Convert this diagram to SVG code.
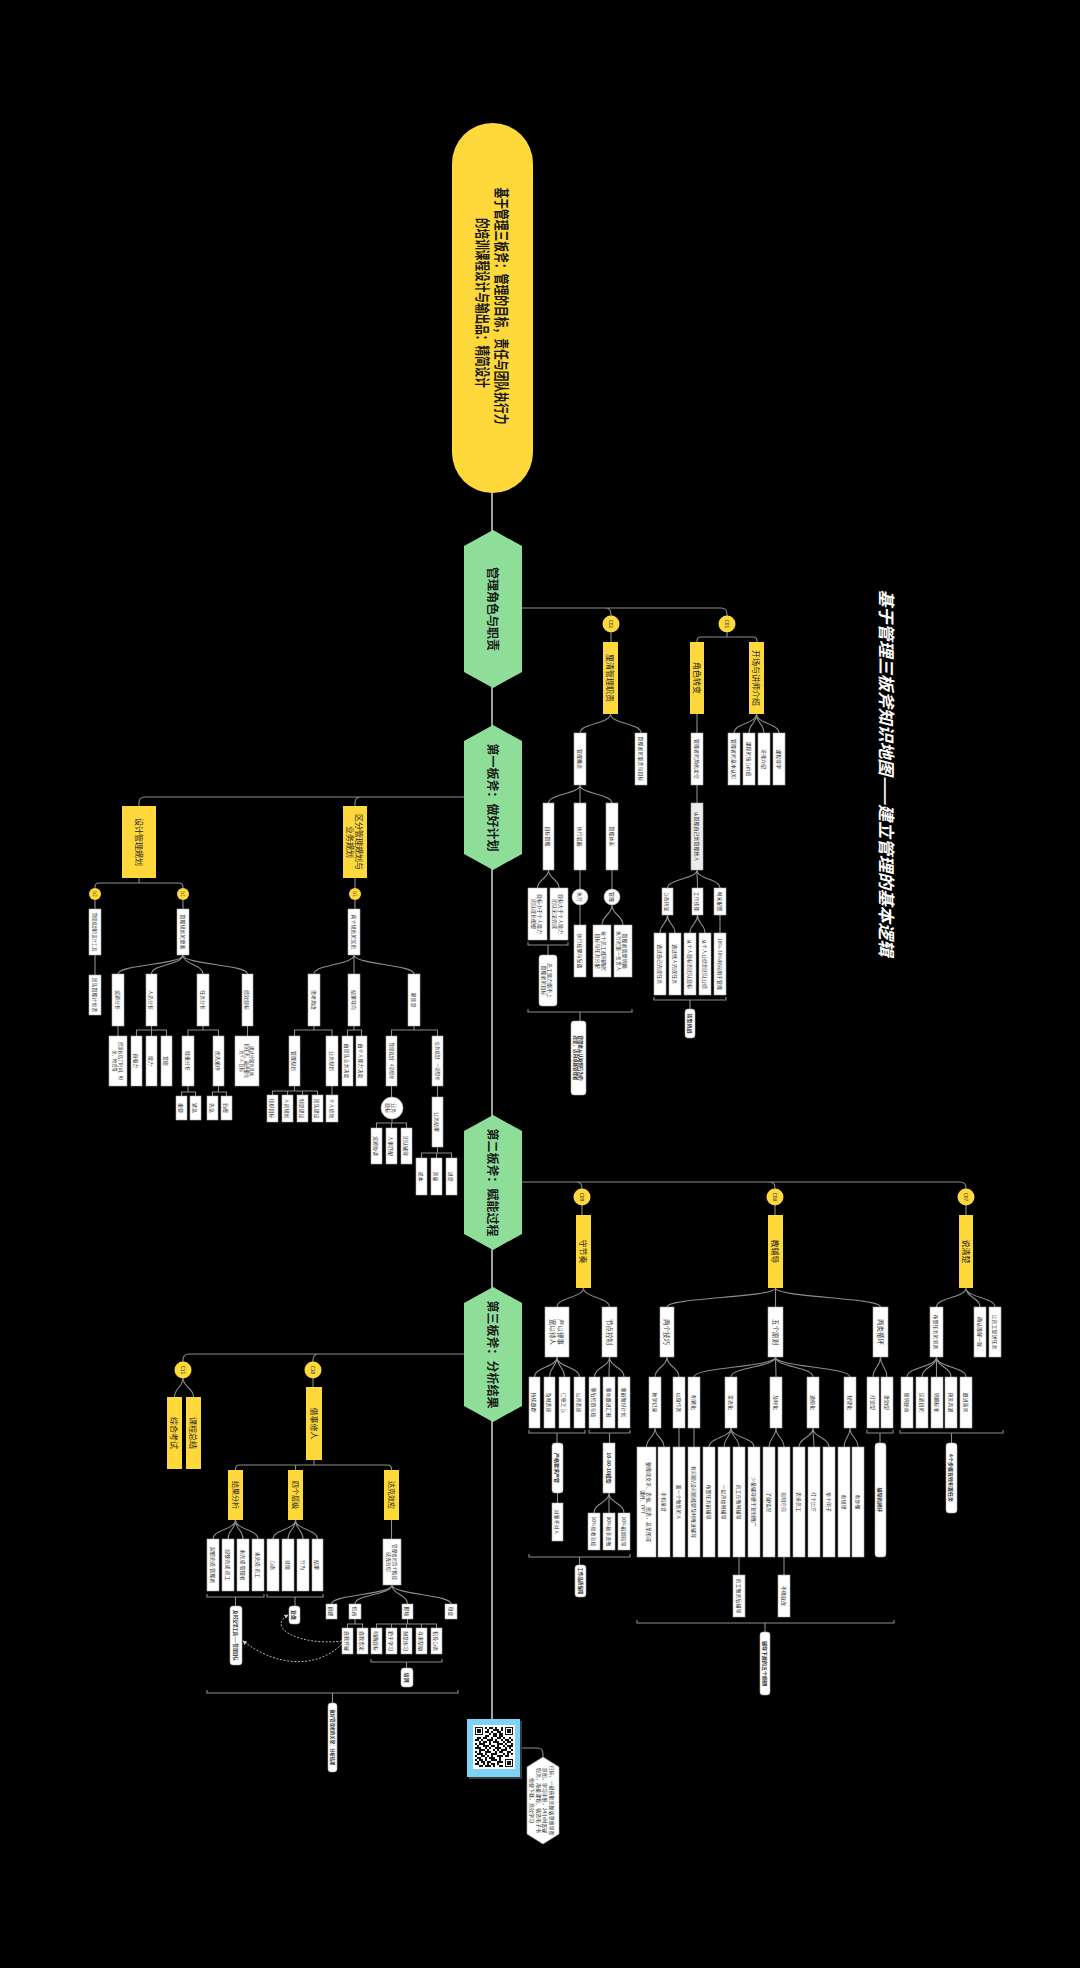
<svg xmlns="http://www.w3.org/2000/svg" width="1080" height="1968" viewBox="0 0 1080 1968">
<defs>
<style>
.t{font-family:"Noto Sans CJK SC","Noto Sans",sans-serif;text-anchor:middle;dominant-baseline:central;fill:#333}
.s{font-size:5px}.xs{font-size:4.3px}.m{font-size:6.5px}
.yl{font-size:8px;fill:#222}
.hx{font-size:12px;font-weight:bold;fill:#1b1b1b}
.w{fill:#fff;stroke:#b0b0b0;stroke-width:.6}
.gr{fill:#ececec;stroke:#b0b0b0;stroke-width:.6}
.y{fill:#FFD83B}
.g{fill:#8EDE99}
.ln{fill:none;stroke:#8d8d8d;stroke-width:1.1}
.sp{fill:none;stroke:#a0a0a0;stroke-width:2}
.da{fill:none;stroke:#c8c8c8;stroke-width:.9;stroke-dasharray:2 1.6}
</style>
<marker id="ah" viewBox="0 0 6 6" refX="5" refY="3" markerWidth="5" markerHeight="5" orient="auto"><path d="M0,0 L6,3 L0,6 z" fill="#c8c8c8"/></marker>
</defs>
<rect width="1080" height="1968" fill="#000"/>

<g id="connectors">
<path class="sp" d="M492 493 V1719"/>
<!-- H1 branch -->
<path class="ln" d="M522 608 H721 Q727 608 727 614 V616 M605 608 Q611 608 611 614 V616"/>
<path class="ln" d="M611 632.5 V642 M727 632.5 V637 M697 642 V641 Q697 637 701 637 H753 Q757 637 757 641 V642"/>
<path class="ln" d="M610.5 714 C610.5 723.5 580 723.5 580 733 M610.5 714 C610.5 723.5 641 723.5 641 733 M697 714 V733"/>
<path class="ln" d="M756.5 714 C756.5 723.5 734 723.5 734 733 M756.5 714 C756.5 723.5 749 723.5 749 733 M756.5 714 C756.5 723.5 764 723.5 764 733 M756.5 714 C756.5 723.5 779 723.5 779 733"/>
<path class="ln" d="M580 785 C580 794 548.5 794 548.5 803 M580 785 V803 M580 785 C580 794 612 794 612 803 M697 785 V803"/>
<path class="ln" d="M548.5 870 C548.5 879 537.5 879 537.5 888 M548.5 870 C548.5 879 559 879 559 888"/>
<path class="ln" d="M528 942 V945 H568 V942 M548 945 V955"/>
<path class="ln" d="M580 870 V889 M580 905 V925 M612 870 V889 M612 905 C612 915 602 915 602 925 M612 905 C612 915 623 915 623 925"/>
<path class="ln" d="M528 1009 V1012 H632 V1009 M580 1012 V1021"/>
<path class="ln" d="M697 870 C697 879 667.5 879 667.5 888 M697 870 C697 879 697.5 879 697.5 888 M697 870 C697 879 720 879 720 888"/>
<path class="ln" d="M667.5 915 C667.5 924 660 924 660 933 M667.5 915 C667.5 924 675 924 675 933 M697.5 915 C697.5 924 690 924 690 933 M697.5 915 C697.5 924 705 924 705 933 M720 915 V933"/>
<path class="ln" d="M654 997 V1000 H726 V997 M690 1000 V1009"/>
<!-- H2 branch -->
<path class="ln" d="M464 797 H145 Q139 797 139 803 V806 M361 797 Q355 797 355 803 V806"/>
<path class="ln" d="M139 878 V883 M95 888 V887 Q95 883 99 883 H179 Q183 883 183 887 V888"/>
<path class="ln" d="M95 900 V909 M95 955 V975 M183 900 V909"/>
<path class="ln" d="M183 955 C183 964.5 118 964.5 118 974 M183 955 C183 964.5 151.5 964.5 151.5 974 M183 955 C183 964.5 203 964.5 203 974 M183 955 C183 964.5 247.5 964.5 247.5 974"/>
<path class="ln" d="M118 1026 V1036 M151.5 1026 V1036 M136.5 1036 V1030 H166.5 V1036 M203 1026 V1030 M188 1036 V1030 H218.5 V1036 M247.5 1026 V1036"/>
<path class="ln" d="M188 1086 V1092 M181.5 1096 V1092 H195.5 V1096 M218.5 1086 V1092 M212.5 1096 V1092 H226.5 V1096"/>
<path class="ln" d="M355 878 V888 M355 900 V909"/>
<path class="ln" d="M354 955 C354 964.5 314 964.5 314 974 M354 955 V974 M354 955 C354 964.5 414 964.5 414 974"/>
<path class="ln" d="M314 1026 V1030 M294.5 1036 V1030 H332 V1036 M354 1026 V1030 M347.5 1036 V1030 H361.5 V1036 M414 1026 V1030 M391.5 1036 V1030 H437.5 V1036"/>
<path class="ln" d="M294.5 1086 V1091 M272.5 1095 V1091 H317.5 V1095 M287.5 1091 V1095 M302.5 1091 V1095 M332 1086 V1095"/>
<path class="ln" d="M391.5 1086 V1097 M392 1119 V1123 M376.5 1128 V1123 H406.5 V1128 M391.5 1123 V1128"/>
<path class="ln" d="M437.5 1086 V1097 M437.5 1147 V1153 M421.5 1158 V1153 H451.5 V1158 M436.5 1153 V1158"/>
<!-- H3 branch -->
<path class="ln" d="M522 1182 H960 Q966 1182 966 1188 V1189 M576 1182 Q582 1182 582 1188 V1189 M769 1182 Q775 1182 775 1188 V1189"/>
<path class="ln" d="M582 1205 V1215 M775 1205 V1215 M966 1205 V1215"/>
<path class="ln" d="M583.5 1288 C583.5 1297.5 557 1297.5 557 1307 M583.5 1288 C583.5 1297.5 609.5 1297.5 609.5 1307"/>
<path class="ln" d="M557 1357 C557 1367 534.5 1367 534.5 1377 M557 1357 C557 1367 549.5 1367 549.5 1377 M557 1357 C557 1367 564.5 1367 564.5 1377 M557 1357 C557 1367 579.5 1367 579.5 1377"/>
<path class="ln" d="M529 1430 V1433 H585 V1430 M557 1433 V1443 M557.5 1493 V1503"/>
<path class="ln" d="M609.5 1357 C609.5 1367 594.5 1367 594.5 1377 M609.5 1357 C609.5 1367 609 1367 609 1377 M609.5 1357 C609.5 1367 624 1367 624 1377"/>
<path class="ln" d="M589 1430 V1433 H630 V1430 M609.5 1433 V1443"/>
<path class="ln" d="M609 1493 C609 1503 594 1503 594 1513 M609 1493 V1513 M609 1493 C609 1503 624 1503 624 1513"/>
<path class="ln" d="M529 1554 V1557 H630 V1554 M579.5 1557 V1565"/>
<path class="ln" d="M775.5 1288 C775.5 1297.5 667 1297.5 667 1307 M775.5 1288 V1307 M775.5 1288 C775.5 1297.5 880.5 1297.5 880.5 1307"/>
<path class="ln" d="M667 1357 C667 1367 655 1367 655 1377 M667 1357 C667 1367 679 1367 679 1377"/>
<path class="ln" d="M775.5 1357 C775.5 1367 694 1367 694 1377 M775.5 1357 C775.5 1367 731 1367 731 1377 M775.5 1357 C775.5 1367 776 1367 776 1377 M775.5 1357 C775.5 1367 813 1367 813 1377 M775.5 1357 C775.5 1367 850 1367 850 1377"/>
<path class="ln" d="M880.5 1357 C880.5 1367 873 1367 873 1377 M880.5 1357 C880.5 1367 887 1367 887 1377"/>
<path class="ln" d="M655 1428 C655 1437.5 646.5 1437.5 646.5 1447 M655 1428 C655 1437.5 664 1437.5 664 1447 M679 1428 V1447 M694 1428 V1447"/>
<path class="ln" d="M731 1428 C731 1437.5 709 1437.5 709 1447 M731 1428 C731 1437.5 724 1437.5 724 1447 M731 1428 C731 1437.5 739 1437.5 739 1447 M731 1428 C731 1437.5 754 1437.5 754 1447"/>
<path class="ln" d="M776 1428 C776 1437.5 769 1437.5 769 1447 M776 1428 C776 1437.5 784 1437.5 784 1447"/>
<path class="ln" d="M813 1428 C813 1437.5 799 1437.5 799 1447 M813 1428 C813 1437.5 814 1437.5 814 1447 M813 1428 C813 1437.5 829 1437.5 829 1447"/>
<path class="ln" d="M850 1428 C850 1437.5 844 1437.5 844 1447 M850 1428 C850 1437.5 858 1437.5 858 1447"/>
<path class="ln" d="M739 1557 V1575 M784 1557 V1575"/>
<path class="ln" d="M867 1430 V1433 H893 V1430 M880 1433 V1443"/>
<path class="ln" d="M637 1620 V1623 H894 V1620 M765 1623 V1632"/>
<path class="ln" d="M966 1288 C966 1297.5 936.5 1297.5 936.5 1307 M966 1288 C966 1297.5 980 1297.5 980 1307 M966 1288 C966 1297.5 995 1297.5 995 1307"/>
<path class="ln" d="M936.5 1357 C936.5 1367 907 1367 907 1377 M936.5 1357 C936.5 1367 922 1367 922 1377 M936.5 1357 V1377 M936.5 1357 C936.5 1367 951 1367 951 1377 M936.5 1357 C936.5 1367 966 1367 966 1377"/>
<path class="ln" d="M900 1430 V1433 H1003 V1430 M951.5 1433 V1443"/>
<!-- H4 branch -->
<path class="ln" d="M464 1354 H189 Q183 1354 183 1360 V1362 M319 1354 Q313 1354 313 1360 V1362"/>
<path class="ln" d="M183 1378 C183 1387.5 174.5 1387.5 174.5 1397 M183 1378 C183 1387.5 193.5 1387.5 193.5 1397 M313 1378 V1387"/>
<path class="ln" d="M314 1460 V1465 M235.5 1470 V1469 Q235.5 1465 239.5 1465 H387.5 Q391.5 1465 391.5 1469 V1470 M295.5 1465 V1470"/>
<path class="ln" d="M235.5 1520 C235.5 1529.5 213 1529.5 213 1539 M235.5 1520 C235.5 1529.5 228 1529.5 228 1539 M235.5 1520 C235.5 1529.5 243 1529.5 243 1539 M235.5 1520 C235.5 1529.5 258 1529.5 258 1539"/>
<path class="ln" d="M295.5 1520 C295.5 1529.5 273 1529.5 273 1539 M295.5 1520 C295.5 1529.5 288 1529.5 288 1539 M295.5 1520 C295.5 1529.5 303 1529.5 303 1539 M295.5 1520 C295.5 1529.5 317.5 1529.5 317.5 1539"/>
<path class="ln" d="M207 1594 V1597 H264 V1594 M235.5 1597 V1606 M267 1594 V1597 H323 V1594 M295 1597 V1606"/>
<path class="ln" d="M391.5 1520 V1539"/>
<path class="ln" d="M392 1585 C392 1594.5 331.5 1594.5 331.5 1604 M392 1585 C392 1594.5 355 1594.5 355 1604 M392 1585 C392 1594.5 407.5 1594.5 407.5 1604 M392 1585 C392 1594.5 451 1594.5 451 1604"/>
<path class="ln" d="M355 1619 V1624 M347.5 1628 V1624 H362.5 V1628 M407.5 1619 V1624 M376.5 1628 V1624 H436.5 V1628 M391.5 1624 V1628 M406.5 1624 V1628 M421.5 1624 V1628"/>
<path class="ln" d="M371 1659 V1662 H442 V1659 M406.5 1662 V1668"/>
<path class="ln" d="M207 1690 V1693 H458 V1690 M332.5 1693 V1703"/>
<path class="da" marker-end="url(#ah)" d="M342 1641 C300 1646 266 1628 288 1615"/>
<path class="da" marker-end="url(#ah)" d="M342 1644 C318 1668 278 1668 243 1641"/>
<path class="ln" d="M520 1748 H537 Q543 1748 543 1754 V1757"/>
</g>

<g id="root">
<rect x="452" y="123" width="81" height="370" rx="40.5" class="y"/>
<text x="502" y="306" transform="rotate(90 502 306)" textLength="237" lengthAdjust="spacingAndGlyphs" style="font-family:'Noto Sans CJK SC',sans-serif;font-size:15px;font-weight:bold;fill:#1a1a1a;text-anchor:middle;dominant-baseline:central">基于管理三板斧：管理的目标，责任与团队执行力</text>
<text x="483" y="303" transform="rotate(90 483 303)" textLength="170" lengthAdjust="spacingAndGlyphs" style="font-family:'Noto Sans CJK SC',sans-serif;font-size:15px;font-weight:bold;fill:#1a1a1a;text-anchor:middle;dominant-baseline:central">的培训课程设计与输出品：精简设计</text>
</g>
<g id="title">
<text x="887" y="773" transform="rotate(90 887 773)" textLength="367" lengthAdjust="spacingAndGlyphs" style="font-family:'Noto Sans CJK SC',sans-serif;font-size:17px;font-weight:bold;font-style:italic;fill:#fff;text-anchor:middle;dominant-baseline:central">基于管理三板斧知识地图——建立管理的基本逻辑</text>
</g>

<g id="h1"><polygon class="g" points="493,530 522,546 522,672 493,688 464,672 464,546"/><text class="t hx" x="493" y="609" transform="rotate(90 493 609)">管理角色与职责</text></g>
<g id="h2"><polygon class="g" points="493,725 522,741 522,854 493,870 464,854 464,741"/><text class="t hx" x="493" y="797.5" transform="rotate(90 493 797.5)">第一板斧：做好计划</text></g>
<g id="h3"><polygon class="g" points="493,1115 522,1131 522,1234 493,1250 464,1234 464,1131"/><text class="t hx" x="493" y="1182.5" transform="rotate(90 493 1182.5)">第二板斧：赋能过程</text></g>
<g id="h4"><polygon class="g" points="493,1287 522,1303 522,1406 493,1422 464,1406 464,1303"/><text class="t hx" x="493" y="1354.5" transform="rotate(90 493 1354.5)">第三板斧：分析结果</text></g>

<!-- H1 branch nodes -->
<g id="c02"><circle cx="611" cy="624" r="8.5" class="y"/><text class="t" style="font-size:5px" x="611" y="624" transform="rotate(90 611 624)">C02</text></g>
<g id="c01"><circle cx="727" cy="624" r="8.5" class="y"/><text class="t" style="font-size:5px" x="727" y="624" transform="rotate(90 727 624)">C01</text></g>
<g id="y1"><rect x="603" y="642" width="15" height="72" class="y"/><text class="t yl" x="610.5" y="678" transform="rotate(90 610.5 678)">厘清管理职责</text></g>
<g id="y2"><rect x="690" y="642" width="14" height="72" class="y"/><text class="t yl" x="697" y="678" transform="rotate(90 697 678)">角色转变</text></g>
<g id="y3"><rect x="749" y="642" width="15" height="72" class="y"/><text class="t yl" x="756.5" y="678" transform="rotate(90 756.5 678)">开场与讲师介绍</text></g>
<g id="a1"><rect x="574" y="733" width="12" height="52" class="w"/><text class="t s" x="580" y="759" transform="rotate(90 580 759)">管理概念</text></g>
<g id="a2"><rect x="635" y="733" width="12" height="52" class="w"/><text class="t s" x="641" y="759" transform="rotate(90 641 759)">管理者的职责与目标</text></g>
<g id="a3"><rect x="691" y="733" width="12" height="52" class="w"/><text class="t s" x="697" y="759" transform="rotate(90 697 759)">管理者的角色定位</text></g>
<g id="a4"><rect x="728" y="733" width="12" height="52" class="w"/><text class="t s" x="734" y="759" transform="rotate(90 734 759)">管理者的基本认知</text></g>
<g id="a5"><rect x="743" y="733" width="12" height="52" class="w"/><text class="t s" x="749" y="759" transform="rotate(90 749 759)">课程的核心价值</text></g>
<g id="a6"><rect x="758" y="733" width="12" height="52" class="w"/><text class="t s" x="764" y="759" transform="rotate(90 764 759)">讲师介绍</text></g>
<g id="a7"><rect x="773" y="733" width="12" height="52" class="w"/><text class="t s" x="779" y="759" transform="rotate(90 779 759)">课程导学</text></g>
<g id="a8"><rect x="691" y="803" width="12" height="67" class="gr"/><text class="t s" x="697" y="836.5" transform="rotate(90 697 836.5)">从管理自己到管理他人</text></g>
<g id="b1"><rect x="543" y="803" width="11" height="67" class="w"/><text class="t s" x="548.5" y="836.5" transform="rotate(90 548.5 836.5)">目标管理</text></g>
<g id="b2"><rect x="574" y="803" width="12" height="67" class="w"/><text class="t s" x="580" y="836.5" transform="rotate(90 580 836.5)">执行层面</text></g>
<g id="b3"><rect x="606" y="803" width="12" height="67" class="w"/><text class="t s" x="612" y="836.5" transform="rotate(90 612 836.5)">管理体系</text></g>
<g id="b1c1"><rect x="528" y="888" width="19" height="52" class="w"/><text class="t s" x="537.5" y="914" transform="rotate(90 537.5 914)"><tspan x="537.5" dy="-3">目标小于个人能力</tspan><tspan x="537.5" dy="6">团队成长缓慢</tspan></text></g>
<g id="b1c2"><rect x="550" y="888" width="18" height="52" class="w"/><text class="t s" x="559" y="914" transform="rotate(90 559 914)"><tspan x="559" dy="-3">目标大于个人能力</tspan><tspan x="559" dy="6">团队无法完成</tspan></text></g>
<g id="b1sum"><rect x="539" y="955" width="18" height="51" rx="3" class="w"/><text class="t s" x="548" y="980.5" transform="rotate(90 548 980.5)"><tspan x="548" dy="-3">员工能力跟不上</tspan><tspan x="548" dy="6">管理者的目标</tspan></text></g>
<g id="cz1"><circle cx="580" cy="897" r="8" fill="#fff" stroke="#b0b0b0" stroke-width=".6"/><text class="t s" x="580" y="897" transform="rotate(90 580 897)">执行</text></g>
<g id="b2c"><rect x="574" y="925" width="12" height="52" class="w"/><text class="t s" x="580" y="951" transform="rotate(90 580 951)">执行结果与反馈</text></g>
<g id="cz2"><circle cx="612" cy="897" r="8" fill="#fff" stroke="#b0b0b0" stroke-width=".6"/><text class="t s" x="612" y="897" transform="rotate(90 612 897)">管理</text></g>
<g id="b3c1"><rect x="593" y="925" width="18" height="52" class="w"/><text class="t s" x="602" y="951" transform="rotate(90 602 951)"><tspan x="602" dy="-3">每个员工都明确的</tspan><tspan x="602" dy="6">目标与任务分配</tspan></text></g>
<g id="b3c2"><rect x="614" y="925" width="18" height="52" class="w"/><text class="t s" x="623" y="951" transform="rotate(90 623 951)"><tspan x="623" dy="-3">管理者需要明确</tspan><tspan x="623" dy="6">执行的第一负责人</tspan></text></g>
<g id="sum1"><rect x="571" y="1021" width="15" height="74" rx="3" class="w"/><text class="t" style="font-size:4.5px;font-weight:bold" x="578.5" y="1058" transform="rotate(90 578.5 1058)"><tspan x="578.5" dy="-2.6">管理者从认知到行为的</tspan><tspan x="578.5" dy="5.2">改变，迈向卓越管理者</tspan></text></g>
<g id="g1"><rect x="662" y="888" width="11" height="27" class="w"/><text class="t s" x="667.5" y="901.5" transform="rotate(90 667.5 901.5)">心态转变</text></g>
<g id="g2"><rect x="692" y="888" width="11" height="27" class="w"/><text class="t s" x="697.5" y="901.5" transform="rotate(90 697.5 901.5)">工作技能</text></g>
<g id="g3"><rect x="714" y="888" width="12" height="27" class="w"/><text class="t s" x="720" y="901.5" transform="rotate(90 720 901.5)">时间配置</text></g>
<g id="g1a"><rect x="654" y="933" width="12" height="62" class="w"/><text class="t s" x="660" y="964" transform="rotate(90 660 964)">通过自己完成任务</text></g>
<g id="g1b"><rect x="669" y="933" width="12" height="62" class="w"/><text class="t s" x="675" y="964" transform="rotate(90 675 964)">通过他人完成任务</text></g>
<g id="g2a"><rect x="684" y="933" width="12" height="62" class="w"/><text class="t s" x="690" y="964" transform="rotate(90 690 964)">从个人目标到团队目标</text></g>
<g id="g2b"><rect x="699" y="933" width="12" height="62" class="w"/><text class="t s" x="705" y="964" transform="rotate(90 705 964)">从个人业绩到团队业绩</text></g>
<g id="g3a"><rect x="714" y="933" width="12" height="62" class="w"/><text class="t s" x="720" y="964" transform="rotate(90 720 964)">10%-30%时间用于管理</text></g>
<g id="sum2"><rect x="685" y="1009" width="10" height="29" rx="3" class="w"/><text class="t s" style="font-weight:bold" x="690" y="1023.5" transform="rotate(90 690 1023.5)">转型挑战</text></g>

<!-- H2 branch nodes -->
<g id="y4"><rect x="122" y="806" width="34" height="72" class="y"/><text class="t yl" x="139" y="842" transform="rotate(90 139 842)">设计管理规划</text></g>
<g id="y5"><rect x="343" y="806" width="24" height="72" class="y"/><text class="t yl" x="355" y="842" transform="rotate(90 355 842)"><tspan x="355" dy="-4.5">区分管理规划与</tspan><tspan x="355" dy="9">业务规划</tspan></text></g>
<g id="cb2"><circle cx="95" cy="894" r="6" class="y"/><text class="t" style="font-size:4.5px" x="95" y="894" transform="rotate(90 95 894)">b2</text></g>
<g id="cb1"><circle cx="183" cy="894" r="6" class="y"/><text class="t" style="font-size:4.5px" x="183" y="894" transform="rotate(90 183 894)">b1</text></g>
<g id="cb1r"><circle cx="355" cy="894" r="6" class="y"/><text class="t" style="font-size:4.5px" x="355" y="894" transform="rotate(90 355 894)">b1</text></g>
<g id="l1"><rect x="89" y="909" width="12" height="46" class="w"/><text class="t xs" x="95" y="932" transform="rotate(90 95 932)">管理规划的设计工具</text></g>
<g id="l2"><rect x="89" y="975" width="12" height="40" class="w"/><text class="t s" x="95" y="995" transform="rotate(90 95 995)">团队管理计划表</text></g>
<g id="l3"><rect x="177" y="909" width="12" height="46" class="w"/><text class="t s" x="183" y="932" transform="rotate(90 183 932)">管理规划的要素</text></g>
<g id="l4"><rect x="112" y="974" width="12" height="52" class="w"/><text class="t s" x="118" y="1000" transform="rotate(90 118 1000)">资源分析</text></g>
<g id="l5"><rect x="146" y="974" width="11" height="52" class="w"/><text class="t s" x="151.5" y="1000" transform="rotate(90 151.5 1000)">人员分析</text></g>
<g id="l6"><rect x="197" y="974" width="12" height="52" class="w"/><text class="t s" x="203" y="1000" transform="rotate(90 203 1000)">任务分析</text></g>
<g id="l7"><rect x="242" y="974" width="11" height="52" class="w"/><text class="t s" x="247.5" y="1000" transform="rotate(90 247.5 1000)">绩效目标</text></g>
<g id="l8"><rect x="109" y="1036" width="18" height="50" class="w"/><text class="t xs" x="118" y="1061" transform="rotate(90 118 1061)"><tspan x="118" dy="-2.7">资源包括了时间、财</tspan><tspan x="118" dy="5.4">务、物资等</tspan></text></g>
<g id="l9"><rect x="131" y="1036" width="11" height="50" class="w"/><text class="t s" x="136.5" y="1061" transform="rotate(90 136.5 1061)">自驱力</text></g>
<g id="l10"><rect x="146" y="1036" width="11" height="50" class="w"/><text class="t s" x="151.5" y="1061" transform="rotate(90 151.5 1061)">能力</text></g>
<g id="l11"><rect x="161" y="1036" width="11" height="50" class="w"/><text class="t s" x="166.5" y="1061" transform="rotate(90 166.5 1061)">意愿</text></g>
<g id="l12"><rect x="182" y="1036" width="12" height="50" class="w"/><text class="t s" x="188" y="1061" transform="rotate(90 188 1061)">轻重分析</text></g>
<g id="l13"><rect x="213" y="1036" width="11" height="50" class="w"/><text class="t s" x="218.5" y="1061" transform="rotate(90 218.5 1061)">优先顺序</text></g>
<g id="l14"><rect x="176" y="1096" width="11" height="24" class="w"/><text class="t s" x="181.5" y="1108" transform="rotate(90 181.5 1108)">重要</text></g>
<g id="l15"><rect x="190" y="1096" width="11" height="24" class="w"/><text class="t s" x="195.5" y="1108" transform="rotate(90 195.5 1108)">紧急</text></g>
<g id="l16"><rect x="207" y="1096" width="11" height="24" class="w"/><text class="t s" x="212.5" y="1108" transform="rotate(90 212.5 1108)">先急</text></g>
<g id="l17"><rect x="221" y="1096" width="11" height="24" class="w"/><text class="t s" x="226.5" y="1108" transform="rotate(90 226.5 1108)">后缓</text></g>
<g id="l18"><rect x="235" y="1036" width="24" height="50" class="w"/><text class="t xs" x="247" y="1061" transform="rotate(90 247 1061)"><tspan x="247" dy="-5.4">通过分解为具体</tspan><tspan x="247" dy="5.4">的任务，最终细化</tspan><tspan x="247" dy="5.4">为个人目标</tspan></text></g>
<g id="r0"><rect x="348" y="909" width="12" height="46" class="w"/><text class="t s" x="354" y="932" transform="rotate(90 354 932)">两个规划的区别</text></g>
<g id="r1"><rect x="308" y="974" width="12" height="52" class="w"/><text class="t s" x="314" y="1000" transform="rotate(90 314 1000)">思考角度</text></g>
<g id="r2"><rect x="348" y="974" width="12" height="52" class="w"/><text class="t s" x="354" y="1000" transform="rotate(90 354 1000)">结果导向</text></g>
<g id="r3"><rect x="408" y="974" width="12" height="52" class="w"/><text class="t s" x="414" y="1000" transform="rotate(90 414 1000)">聚焦度</text></g>
<g id="r4"><rect x="289" y="1036" width="11" height="50" class="w"/><text class="t s" x="294.5" y="1061" transform="rotate(90 294.5 1061)">管理规划</text></g>
<g id="r5"><rect x="326" y="1036" width="12" height="50" class="w"/><text class="t s" x="332" y="1061" transform="rotate(90 332 1061)">业务规划</text></g>
<g id="r6"><rect x="267" y="1095" width="11" height="27" class="w"/><text class="t s" x="272.5" y="1108.5" transform="rotate(90 272.5 1108.5)">组织目标</text></g>
<g id="r7"><rect x="282" y="1095" width="11" height="27" class="w"/><text class="t s" x="287.5" y="1108.5" transform="rotate(90 287.5 1108.5)">人员规划</text></g>
<g id="r8"><rect x="297" y="1095" width="11" height="27" class="w"/><text class="t s" x="302.5" y="1108.5" transform="rotate(90 302.5 1108.5)">制度建设</text></g>
<g id="r9"><rect x="312" y="1095" width="11" height="27" class="w"/><text class="t s" x="317.5" y="1108.5" transform="rotate(90 317.5 1108.5)">团队建设</text></g>
<g id="r10"><rect x="326" y="1095" width="12" height="27" class="w"/><text class="t s" x="332" y="1108.5" transform="rotate(90 332 1108.5)">个人绩效</text></g>
<g id="r11"><rect x="342" y="1036" width="11" height="50" class="w"/><text class="t s" x="347.5" y="1061" transform="rotate(90 347.5 1061)">由团队业务决定</text></g>
<g id="r12"><rect x="356" y="1036" width="11" height="50" class="w"/><text class="t s" x="361.5" y="1061" transform="rotate(90 361.5 1061)">由个人能力决定</text></g>
<g id="r13"><rect x="386" y="1036" width="11" height="50" class="w"/><text class="t xs" x="391.5" y="1061" transform="rotate(90 391.5 1061)">管理规划：4项思考</text></g>
<g id="r14"><rect x="432" y="1036" width="11" height="50" class="w"/><text class="t xs" x="437.5" y="1061" transform="rotate(90 437.5 1061)">业务规划：一项思考</text></g>
<g id="rc"><circle cx="392" cy="1108" r="11" fill="#fff" stroke="#b0b0b0" stroke-width=".6"/><text class="t s" x="392" y="1108" transform="rotate(90 392 1108)"><tspan x="392" dy="-3">业务</tspan><tspan x="392" dy="6">目标</tspan></text></g>
<g id="r15"><rect x="371" y="1128" width="11" height="36" class="w"/><text class="t s" x="376.5" y="1146" transform="rotate(90 376.5 1146)">资源协调</text></g>
<g id="r16"><rect x="386" y="1128" width="11" height="36" class="w"/><text class="t s" x="391.5" y="1146" transform="rotate(90 391.5 1146)">人事匹配</text></g>
<g id="r17"><rect x="401" y="1128" width="11" height="36" class="w"/><text class="t s" x="406.5" y="1146" transform="rotate(90 406.5 1146)">团队辅导</text></g>
<g id="r18"><rect x="432" y="1097" width="11" height="50" class="w"/><text class="t s" x="437.5" y="1122" transform="rotate(90 437.5 1122)">业务结果</text></g>
<g id="r19"><rect x="416" y="1158" width="11" height="37" class="w"/><text class="t s" x="421.5" y="1176.5" transform="rotate(90 421.5 1176.5)">成本</text></g>
<g id="r20"><rect x="431" y="1158" width="11" height="37" class="w"/><text class="t s" x="436.5" y="1176.5" transform="rotate(90 436.5 1176.5)">质量</text></g>
<g id="r21"><rect x="446" y="1158" width="11" height="37" class="w"/><text class="t s" x="451.5" y="1176.5" transform="rotate(90 451.5 1176.5)">进度</text></g>

<!-- H3 branch nodes -->
<g id="c09"><circle cx="582" cy="1197" r="8.5" class="y"/><text class="t" style="font-size:5px" x="582" y="1197" transform="rotate(90 582 1197)">C09</text></g>
<g id="c08"><circle cx="775" cy="1197" r="8.5" class="y"/><text class="t" style="font-size:5px" x="775" y="1197" transform="rotate(90 775 1197)">C08</text></g>
<g id="c07"><circle cx="966" cy="1197" r="8.5" class="y"/><text class="t" style="font-size:5px" x="966" y="1197" transform="rotate(90 966 1197)">C07</text></g>
<g id="y6"><rect x="576" y="1215" width="15" height="73" class="y"/><text class="t yl" x="583.5" y="1251.5" transform="rotate(90 583.5 1251.5)">守节奏</text></g>
<g id="y7"><rect x="768" y="1215" width="15" height="73" class="y"/><text class="t yl" x="775.5" y="1251.5" transform="rotate(90 775.5 1251.5)">教辅导</text></g>
<g id="y8"><rect x="959" y="1215" width="14" height="73" class="y"/><text class="t yl" x="966" y="1251.5" transform="rotate(90 966 1251.5)">说清楚</text></g>
<g id="s1"><rect x="545" y="1307" width="24" height="50" class="w"/><text class="t m" x="557" y="1332" transform="rotate(90 557 1332)"><tspan x="557" dy="-3.8">严以律事</tspan><tspan x="557" dy="7.6">宽以待人</tspan></text></g>
<g id="s2"><rect x="602" y="1307" width="15" height="50" class="w"/><text class="t m" x="609.5" y="1332" transform="rotate(90 609.5 1332)">节点控制</text></g>
<g id="s3"><rect x="529" y="1377" width="11" height="51" class="w"/><text class="t s" x="534.5" y="1402.5" transform="rotate(90 534.5 1402.5)">持续跟踪</text></g>
<g id="s4"><rect x="544" y="1377" width="11" height="51" class="w"/><text class="t s" x="549.5" y="1402.5" transform="rotate(90 549.5 1402.5)">及时表扬</text></g>
<g id="s5"><rect x="559" y="1377" width="11" height="51" class="w"/><text class="t s" x="564.5" y="1402.5" transform="rotate(90 564.5 1402.5)">仁慈之心</text></g>
<g id="s6"><rect x="574" y="1377" width="11" height="51" class="w"/><text class="t s" x="579.5" y="1402.5" transform="rotate(90 579.5 1402.5)">公开表扬</text></g>
<g id="s7"><rect x="552" y="1443" width="11" height="50" rx="3" class="w"/><text class="t s" style="font-weight:bold" x="557.5" y="1468" transform="rotate(90 557.5 1468)">严格要求严管</text></g>
<g id="s8"><rect x="552" y="1503" width="11" height="38" class="w"/><text class="t s" x="557.5" y="1522" transform="rotate(90 557.5 1522)">对事不对人</text></g>
<g id="s9"><rect x="589" y="1377" width="11" height="51" class="w"/><text class="t s" x="594.5" y="1402.5" transform="rotate(90 594.5 1402.5)">事后检查总结</text></g>
<g id="s10"><rect x="603" y="1377" width="12" height="51" class="w"/><text class="t s" x="609" y="1402.5" transform="rotate(90 609 1402.5)">事中跟进汇报</text></g>
<g id="s11"><rect x="618" y="1377" width="12" height="51" class="w"/><text class="t s" x="624" y="1402.5" transform="rotate(90 624 1402.5)">事前做好计划</text></g>
<g id="s12"><rect x="603" y="1443" width="12" height="50" class="w"/><text class="t s" style="font-weight:bold" x="609" y="1468" transform="rotate(90 609 1468)">10-80-10模型</text></g>
<g id="s13"><rect x="588" y="1513" width="12" height="37" class="w"/><text class="t s" x="594" y="1531.5" transform="rotate(90 594 1531.5)">10%验收总结</text></g>
<g id="s14"><rect x="603" y="1513" width="12" height="37" class="w"/><text class="t s" x="609" y="1531.5" transform="rotate(90 609 1531.5)">80%放手去做</text></g>
<g id="s15"><rect x="618" y="1513" width="12" height="37" class="w"/><text class="t s" x="624" y="1531.5" transform="rotate(90 624 1531.5)">10%前期指导</text></g>
<g id="s16"><rect x="575" y="1565" width="11" height="32" rx="3" class="w"/><text class="t s" style="font-size:4.5px;font-weight:bold" x="580.5" y="1581" transform="rotate(90 580.5 1581)">工作品质保障</text></g>
<g id="t1"><rect x="660" y="1307" width="14" height="50" class="w"/><text class="t m" x="667" y="1332" transform="rotate(90 667 1332)">两个技巧</text></g>
<g id="t2"><rect x="768" y="1307" width="15" height="50" class="w"/><text class="t m" x="775.5" y="1332" transform="rotate(90 775.5 1332)">五个原则</text></g>
<g id="t3"><rect x="873" y="1307" width="15" height="50" class="w"/><text class="t m" x="880.5" y="1332" transform="rotate(90 880.5 1332)">两类循环</text></g>
<g id="t4"><rect x="649" y="1377" width="12" height="51" class="w"/><text class="t s" x="655" y="1402.5" transform="rotate(90 655 1402.5)">教学记录</text></g>
<g id="t5"><rect x="673" y="1377" width="12" height="51" class="w"/><text class="t s" x="679" y="1402.5" transform="rotate(90 679 1402.5)">以身作则</text></g>
<g id="t6"><rect x="688" y="1377" width="12" height="51" class="w"/><text class="t s" x="694" y="1402.5" transform="rotate(90 694 1402.5)">新颖化</text></g>
<g id="t7"><rect x="725" y="1377" width="12" height="51" class="w"/><text class="t s" x="731" y="1402.5" transform="rotate(90 731 1402.5)">常态化</text></g>
<g id="t8"><rect x="770" y="1377" width="12" height="51" class="w"/><text class="t s" x="776" y="1402.5" transform="rotate(90 776 1402.5)">及时化</text></g>
<g id="t9"><rect x="807" y="1377" width="12" height="51" class="w"/><text class="t s" x="813" y="1402.5" transform="rotate(90 813 1402.5)">通俗化</text></g>
<g id="t10"><rect x="844" y="1377" width="12" height="51" class="w"/><text class="t s" x="850" y="1402.5" transform="rotate(90 850 1402.5)">规律化</text></g>
<g id="t11"><rect x="867" y="1377" width="12" height="51" class="w"/><text class="t s" x="873" y="1402.5" transform="rotate(90 873 1402.5)">打造型</text></g>
<g id="t12"><rect x="881" y="1377" width="12" height="51" class="w"/><text class="t s" x="887" y="1402.5" transform="rotate(90 887 1402.5)">激励型</text></g>
<g id="k1"><rect x="637" y="1447" width="19" height="110" class="w"/><text class="t s" x="646.5" y="1502" transform="rotate(90 646.5 1502)"><tspan x="646.5" dy="-3">整理成文字、表格、图表，甚至形成</tspan><tspan x="646.5" dy="6">课件、PPT</tspan></text></g>
<g id="k2"><rect x="658" y="1447" width="12" height="110" class="w"/><text class="t s" x="664" y="1502" transform="rotate(90 664 1502)">手机录音</text></g>
<g id="k3"><rect x="673" y="1447" width="12" height="110" class="w"/><text class="t s" x="679" y="1502" transform="rotate(90 679 1502)">第一个做到的人</text></g>
<g id="k4"><rect x="688" y="1447" width="12" height="110" class="w"/><text class="t s" x="694" y="1502" transform="rotate(90 694 1502)">有问题/没问题都要及时推进辅导</text></g>
<g id="k5"><rect x="703" y="1447" width="12" height="110" class="w"/><text class="t s" x="709" y="1502" transform="rotate(90 709 1502)">布置任务前辅导</text></g>
<g id="k6"><rect x="718" y="1447" width="12" height="110" class="w"/><text class="t s" x="724" y="1502" transform="rotate(90 724 1502)">一起开始时辅导</text></g>
<g id="k7"><rect x="733" y="1447" width="12" height="110" class="w"/><text class="t s" x="739" y="1502" transform="rotate(90 739 1502)">员工在做时辅导</text></g>
<g id="k8"><rect x="748" y="1447" width="12" height="110" class="w"/><text class="t s" x="754" y="1502" transform="rotate(90 754 1502)">少量辅导便于复制推广</text></g>
<g id="k9"><rect x="763" y="1447" width="12" height="110" class="w"/><text class="t s" x="769" y="1502" transform="rotate(90 769 1502)">了解情况</text></g>
<g id="k10"><rect x="778" y="1447" width="12" height="110" class="w"/><text class="t s" x="784" y="1502" transform="rotate(90 784 1502)">指明方向</text></g>
<g id="k11"><rect x="793" y="1447" width="12" height="110" class="w"/><text class="t s" x="799" y="1502" transform="rotate(90 799 1502)">表扬员工</text></g>
<g id="k12"><rect x="808" y="1447" width="12" height="110" class="w"/><text class="t s" x="814" y="1502" transform="rotate(90 814 1502)">打个比方</text></g>
<g id="k13"><rect x="823" y="1447" width="12" height="110" class="w"/><text class="t s" x="829" y="1502" transform="rotate(90 829 1502)">举个例子</text></g>
<g id="k14"><rect x="838" y="1447" width="12" height="110" class="w"/><text class="t s" x="844" y="1502" transform="rotate(90 844 1502)">有规律</text></g>
<g id="k15"><rect x="852" y="1447" width="12" height="110" class="w"/><text class="t s" x="858" y="1502" transform="rotate(90 858 1502)">有步骤</text></g>
<g id="k16"><rect x="733" y="1575" width="12" height="42" class="w"/><text class="t s" x="739" y="1596" transform="rotate(90 739 1596)">员工做完后辅导</text></g>
<g id="k17"><rect x="778" y="1575" width="12" height="42" class="w"/><text class="t s" x="784" y="1596" transform="rotate(90 784 1596)">不做就改</text></g>
<g id="k18"><rect x="875" y="1443" width="11" height="114" rx="3" class="w"/><text class="t s" style="font-weight:bold" x="880.5" y="1500" transform="rotate(90 880.5 1500)">辅导的闭环</text></g>
<g id="k19"><rect x="760" y="1632" width="10" height="63" rx="3" class="w"/><text class="t s" style="font-weight:bold" x="765" y="1663.5" transform="rotate(90 765 1663.5)">辅导下属的五个原则</text></g>
<g id="u1"><rect x="930" y="1307" width="13" height="50" class="w"/><text class="t s" x="936.5" y="1332" transform="rotate(90 936.5 1332)">布置任务的原则</text></g>
<g id="u2"><rect x="974" y="1307" width="12" height="50" class="w"/><text class="t s" x="980" y="1332" transform="rotate(90 980 1332)">确认理解一致</text></g>
<g id="u3"><rect x="989" y="1307" width="12" height="50" class="w"/><text class="t s" x="995" y="1332" transform="rotate(90 995 1332)">让员工复述任务</text></g>
<g id="u4"><rect x="901" y="1377" width="12" height="51" class="w"/><text class="t s" x="907" y="1402.5" transform="rotate(90 907 1402.5)">阐明使命</text></g>
<g id="u5"><rect x="916" y="1377" width="12" height="51" class="w"/><text class="t s" x="922" y="1402.5" transform="rotate(90 922 1402.5)">说清目的</text></g>
<g id="u6"><rect x="931" y="1377" width="12" height="51" class="w"/><text class="t s" x="937" y="1402.5" transform="rotate(90 937 1402.5)">明确标准</text></g>
<g id="u7"><rect x="945" y="1377" width="12" height="51" class="w"/><text class="t s" x="951" y="1402.5" transform="rotate(90 951 1402.5)">预先沟通</text></g>
<g id="u8"><rect x="960" y="1377" width="12" height="51" class="w"/><text class="t s" x="966" y="1402.5" transform="rotate(90 966 1402.5)">跟进落实</text></g>
<g id="u9"><rect x="946" y="1443" width="11" height="70" rx="3" class="w"/><text class="t s" style="font-weight:bold" x="951.5" y="1478" transform="rotate(90 951.5 1478)">4个步骤有效布置任务</text></g>

<!-- H4 branch nodes -->
<g id="c11"><circle cx="183" cy="1370" r="8.5" class="y"/><text class="t" style="font-size:5px" x="183" y="1370" transform="rotate(90 183 1370)">C11</text></g>
<g id="c10"><circle cx="313" cy="1370" r="8.5" class="y"/><text class="t" style="font-size:5px" x="313" y="1370" transform="rotate(90 313 1370)">C10</text></g>
<g id="y9"><rect x="167" y="1397" width="15" height="72" class="y"/><text class="t yl" x="174.5" y="1433" transform="rotate(90 174.5 1433)">综合考试</text></g>
<g id="y10"><rect x="186" y="1397" width="15" height="72" class="y"/><text class="t yl" x="193.5" y="1433" transform="rotate(90 193.5 1433)">课程总结</text></g>
<g id="y11"><rect x="306" y="1387" width="16" height="73" class="y"/><text class="t yl" x="314" y="1423.5" transform="rotate(90 314 1423.5)">借事修人</text></g>
<g id="y12"><rect x="228" y="1470" width="15" height="50" class="y"/><text class="t" style="font-size:7px;fill:#222" x="235.5" y="1495" transform="rotate(90 235.5 1495)">结果分析</text></g>
<g id="y13"><rect x="288" y="1470" width="15" height="50" class="y"/><text class="t" style="font-size:7px;fill:#222" x="295.5" y="1495" transform="rotate(90 295.5 1495)">四个层级</text></g>
<g id="y14"><rect x="384" y="1470" width="15" height="50" class="y"/><text class="t" style="font-size:7px;fill:#222" x="391.5" y="1495" transform="rotate(90 391.5 1495)">达克效应</text></g>
<g id="v1"><rect x="207" y="1539" width="12" height="52" class="w"/><text class="t s" x="213" y="1565" transform="rotate(90 213 1565)">超额完成-管理者</text></g>
<g id="v2"><rect x="222" y="1539" width="12" height="52" class="w"/><text class="t s" x="228" y="1565" transform="rotate(90 228 1565)">超额完成-员工</text></g>
<g id="v3"><rect x="237" y="1539" width="12" height="52" class="w"/><text class="t s" x="243" y="1565" transform="rotate(90 243 1565)">未完成-管理者</text></g>
<g id="v4"><rect x="252" y="1539" width="12" height="52" class="w"/><text class="t s" x="258" y="1565" transform="rotate(90 258 1565)">未完成-员工</text></g>
<g id="v5"><rect x="267" y="1539" width="12" height="52" class="w"/><text class="t s" x="273" y="1565" transform="rotate(90 273 1565)">心态</text></g>
<g id="v6"><rect x="282" y="1539" width="12" height="52" class="w"/><text class="t s" x="288" y="1565" transform="rotate(90 288 1565)">技能</text></g>
<g id="v7"><rect x="297" y="1539" width="12" height="52" class="w"/><text class="t s" x="303" y="1565" transform="rotate(90 303 1565)">行为</text></g>
<g id="v8"><rect x="312" y="1539" width="11" height="52" class="w"/><text class="t s" x="317.5" y="1565" transform="rotate(90 317.5 1565)">结果</text></g>
<g id="v9"><rect x="230" y="1606" width="12" height="59" rx="3" class="w"/><text class="t xs" style="font-weight:bold" x="236" y="1635.5" transform="rotate(90 236 1635.5)">及时反馈工具——管理目标</text></g>
<g id="v10"><rect x="289" y="1606" width="11" height="18" rx="3" class="w"/><text class="t s" style="font-weight:bold" x="294.5" y="1615" transform="rotate(90 294.5 1615)">复盘</text></g>
<g id="v11"><rect x="383" y="1539" width="18" height="46" class="w"/><text class="t" style="font-size:4.5px" x="392" y="1562" transform="rotate(90 392 1562)"><tspan x="392" dy="-2.8">管理者的四个阶段</tspan><tspan x="392" dy="5.6">(达克效应)</tspan></text></g>
<g id="v12"><rect x="326" y="1604" width="11" height="15" class="w"/><text class="t s" x="331.5" y="1611.5" transform="rotate(90 331.5 1611.5)">巅峰</text></g>
<g id="v13"><rect x="349" y="1604" width="12" height="15" class="w"/><text class="t s" x="355" y="1611.5" transform="rotate(90 355 1611.5)">低谷</text></g>
<g id="v14"><rect x="402" y="1604" width="11" height="15" class="w"/><text class="t s" x="407.5" y="1611.5" transform="rotate(90 407.5 1611.5)">爬坡</text></g>
<g id="v15"><rect x="445" y="1604" width="12" height="15" class="w"/><text class="t s" x="451" y="1611.5" transform="rotate(90 451 1611.5)">稳定</text></g>
<g id="v16"><rect x="342" y="1628" width="11" height="26" class="w"/><text class="t s" x="347.5" y="1641" transform="rotate(90 347.5 1641)">自我怀疑</text></g>
<g id="v17"><rect x="357" y="1628" width="11" height="26" class="w"/><text class="t s" x="362.5" y="1641" transform="rotate(90 362.5 1641)">自我否定</text></g>
<g id="v18"><rect x="371" y="1628" width="11" height="26" class="w"/><text class="t s" x="376.5" y="1641" transform="rotate(90 376.5 1641)">明确目标</text></g>
<g id="v19"><rect x="386" y="1628" width="11" height="26" class="w"/><text class="t s" x="391.5" y="1641" transform="rotate(90 391.5 1641)">勤于学习</text></g>
<g id="v20"><rect x="401" y="1628" width="11" height="26" class="w"/><text class="t s" x="406.5" y="1641" transform="rotate(90 406.5 1641)">刻意练习</text></g>
<g id="v21"><rect x="416" y="1628" width="11" height="26" class="w"/><text class="t s" x="421.5" y="1641" transform="rotate(90 421.5 1641)">寻求帮助</text></g>
<g id="v22"><rect x="431" y="1628" width="11" height="26" class="w"/><text class="t s" x="436.5" y="1641" transform="rotate(90 436.5 1641)">积极心态</text></g>
<g id="v23"><rect x="401" y="1668" width="12" height="19" rx="3" class="w"/><text class="t s" style="font-weight:bold" x="407" y="1677.5" transform="rotate(90 407 1677.5)">培训</text></g>
<g id="v24"><rect x="328" y="1703" width="9" height="69" rx="3" class="w"/><text class="t xs" style="font-weight:bold" x="332.5" y="1737.5" transform="rotate(90 332.5 1737.5)">做好管理者的关键：分析结果</text></g>

<g id="qr">
<rect x="469" y="1721" width="53" height="58" fill="#3a3a3a"/>
<rect x="467" y="1719" width="53" height="58" fill="#7DD3F5"/>
<rect x="473" y="1725" width="42" height="44" fill="#fff"/>
<path fill="#111" d="M475 1727h8v8h-8z M505 1727h8v8h-8z M505 1759h8v8h-8z"/>
<path fill="#fff" d="M476 1728h6v6h-6z M506 1728h6v6h-6z M506 1760h6v6h-6z"/>
<path fill="#111" d="M477 1729h4v4h-4z M507 1729h4v4h-4z M507 1761h4v4h-4z
M485 1727h2v2h-2z M489 1727h4v2h-4z M495 1727h2v2h-2z M501 1727h2v2h-2z
M487 1729h2v2h-2z M493 1729h6v2h-6z M501 1729h2v2h-2z
M485 1731h4v2h-4z M491 1731h2v2h-2z M497 1731h4v2h-4z
M489 1733h2v2h-2z M493 1733h4v2h-4z M499 1733h4v2h-4z
M485 1735h4v2h-4z M493 1735h4v2h-4z M499 1735h4v2h-4z
M477 1737h4v2h-4z M483 1737h4v2h-4z M491 1737h2v2h-2z M497 1737h4v2h-4z M503 1737h2v2h-2z M509 1737h2v2h-2z
M475 1739h4v2h-4z M481 1739h2v2h-2z M487 1739h6v2h-6z M495 1739h2v2h-2z M501 1739h2v2h-2z M505 1739h4v2h-4z M511 1739h2v2h-2z
M479 1741h2v2h-2z M483 1741h4v2h-4z M489 1741h2v2h-2z M493 1741h6v2h-6z M503 1741h2v2h-2z M507 1741h4v2h-4z
M475 1743h2v2h-2z M479 1743h6v2h-6z M489 1743h2v2h-2z M497 1743h6v2h-6z M505 1743h2v2h-2z M511 1743h2v2h-2z
M477 1745h2v2h-2z M483 1745h6v2h-6z M491 1745h4v2h-4z M497 1745h2v2h-2z M503 1745h2v2h-2z M507 1745h6v2h-6z
M475 1747h6v2h-6z M485 1747h2v2h-2z M489 1747h2v2h-2z M495 1747h6v2h-6z M505 1747h2v2h-2z M509 1747h2v2h-2z
M479 1749h6v2h-6z M487 1749h2v2h-2z M493 1749h2v2h-2z M497 1749h2v2h-2z M501 1749h6v2h-6z M511 1749h2v2h-2z
M475 1751h2v2h-2z M479 1751h2v2h-2z M485 1751h6v2h-6z M495 1751h2v2h-2z M499 1751h4v2h-4z M507 1751h4v2h-4z
M477 1753h6v2h-6z M485 1753h2v2h-2z M491 1753h6v2h-6z M503 1753h2v2h-2z M507 1753h2v2h-2z M511 1753h2v2h-2z
M475 1755h2v2h-2z M481 1755h4v2h-4z M487 1755h2v2h-2z M491 1755h2v2h-2z M497 1755h6v2h-6z M505 1755h4v2h-4z
M477 1757h4v2h-4z M485 1757h2v2h-2z M489 1757h6v2h-6z M499 1757h2v2h-2z
M475 1759h2v2h-2z M479 1759h4v2h-4z M485 1759h2v2h-2z M491 1759h6v2h-6z M499 1759h2v2h-2z
M477 1761h2v2h-2z M481 1761h4v2h-4z M487 1761h4v2h-4z M497 1761h6v2h-6z
M475 1763h4v2h-4z M483 1763h2v2h-2z M487 1763h2v2h-2z M491 1763h4v2h-4z M497 1763h2v2h-2z
M479 1765h4v2h-4z M485 1765h6v2h-6z M493 1765h2v2h-2z M499 1765h4v2h-4z"/>
</g>

<g id="scan-note">
<polygon points="543,1757 559,1767 559,1834 543,1844 527,1834 527,1767" fill="#fff" stroke="#b0b0b0" stroke-width=".6"/>
<text class="t" style="font-size:5px" x="543" y="1800.5" transform="rotate(90 543 1800.5)"><tspan x="543" dy="-9.75">扫码，一键获取完整版思维导图</tspan><tspan x="543" dy="6.5">原图，学习手册，24小时答疑</tspan><tspan x="543" dy="6.5">服务，海量课程、精选电子书</tspan><tspan x="543" dy="6.5">免费下载，高效学习</tspan></text>
</g>
</svg>
